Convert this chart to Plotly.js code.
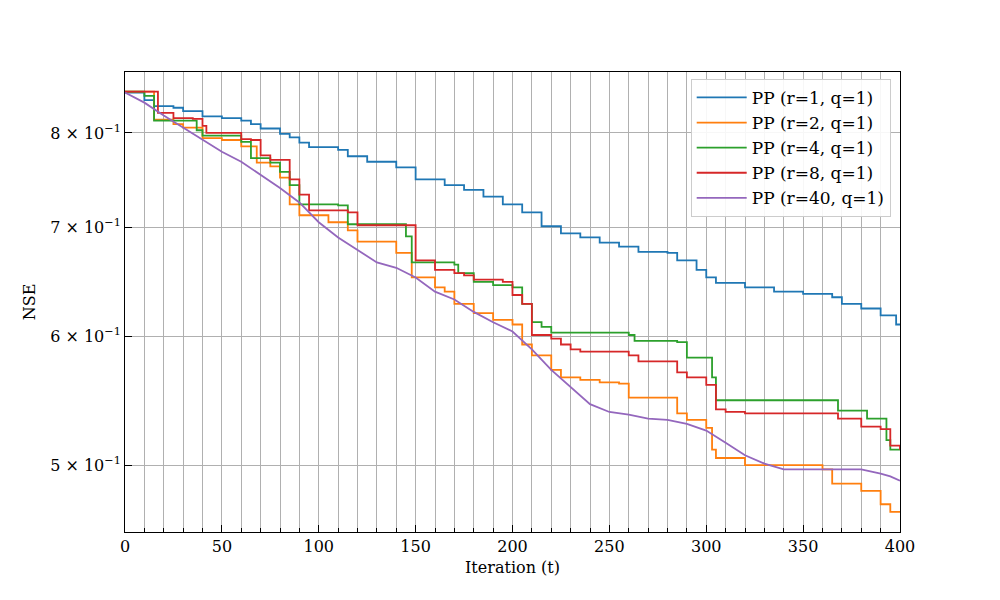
<!DOCTYPE html>
<html>
<head>
<script src="https://cdn.plot.ly/plotly-3.0.1.min.js"></script>
</head>
<body style="margin:0">
<div id="chart" style="width:1000px;height:600px"></div>
<script>
// values (NSE vs iteration)
var x_r1 = [0,10,15,25,30,40,50,60,65,70,80,85,90,95,110,115,125,140,150,165,175,185,195,205,215,225,235,245,255,265,280,285,295,300,305,320,335,350,365,370,380,390,398,400];
var y_r1 = [0.847,0.838,0.831,0.829,0.825,0.819,0.817,0.814,0.810,0.805,0.799,0.795,0.789,0.784,0.781,0.774,0.768,0.762,0.749,0.743,0.738,0.731,0.723,0.715,0.701,0.694,0.690,0.685,0.681,0.676,0.675,0.668,0.659,0.652,0.647,0.643,0.639,0.637,0.634,0.628,0.624,0.618,0.610,0.610];

var x_r2 = [0,12,15,25,30,40,50,60,68,75,80,85,90,100,105,115,120,140,148,160,165,170,180,190,200,205,210,220,225,235,245,255,260,280,285,290,300,303,305,315,320,345,360,365,375,380,390,395,400];
var y_r2 = [0.848,0.848,0.815,0.810,0.806,0.794,0.792,0.785,0.767,0.763,0.751,0.723,0.712,0.712,0.705,0.697,0.686,0.675,0.652,0.643,0.639,0.628,0.620,0.614,0.610,0.593,0.584,0.572,0.566,0.564,0.562,0.561,0.550,0.550,0.538,0.533,0.527,0.511,0.505,0.505,0.500,0.500,0.497,0.487,0.487,0.482,0.473,0.468,0.468];

var x_r4 = [0,10,15,37,40,55,60,65,75,80,85,90,110,115,140,145,148,170,172,180,190,200,205,210,215,220,260,263,285,290,300,303,305,365,368,380,383,390,393,395,400];
var y_r4 = [0.848,0.843,0.814,0.803,0.797,0.797,0.790,0.772,0.767,0.757,0.743,0.723,0.722,0.703,0.703,0.691,0.666,0.664,0.656,0.648,0.645,0.643,0.628,0.612,0.608,0.603,0.601,0.596,0.595,0.582,0.582,0.566,0.548,0.548,0.540,0.540,0.534,0.534,0.518,0.511,0.511];

var x_r8 = [0,15,17,25,35,40,42,55,60,65,70,75,85,90,95,115,120,145,150,160,170,175,180,195,200,205,210,220,225,230,235,255,260,265,280,285,290,300,305,310,320,365,368,375,380,390,395,400];
var y_r8 = [0.848,0.848,0.823,0.817,0.816,0.808,0.800,0.800,0.793,0.792,0.775,0.770,0.749,0.733,0.717,0.715,0.702,0.702,0.668,0.659,0.656,0.654,0.650,0.648,0.636,0.628,0.601,0.598,0.593,0.589,0.587,0.587,0.584,0.579,0.579,0.570,0.566,0.560,0.541,0.539,0.538,0.538,0.534,0.534,0.528,0.526,0.514,0.511];

var x_r40 = [0,10,20,30,40,50,60,70,80,90,100,110,120,130,140,150,160,170,180,190,200,210,220,230,240,250,260,270,280,290,300,310,320,330,340,360,370,380,390,395,400];
var y_r40 = [0.847,0.835,0.820,0.806,0.792,0.779,0.768,0.754,0.740,0.725,0.705,0.690,0.678,0.666,0.661,0.652,0.639,0.632,0.621,0.612,0.604,0.589,0.572,0.558,0.545,0.539,0.537,0.534,0.533,0.530,0.525,0.516,0.507,0.501,0.497,0.497,0.497,0.497,0.494,0.492,0.489];

var series = [
  {x: x_r1, y: y_r1, name: 'PP (r=1, q=1)', color: '#1f77b4', shape: 'hv'},
  {x: x_r2, y: y_r2, name: 'PP (r=2, q=1)', color: '#ff7f0e', shape: 'hv'},
  {x: x_r4, y: y_r4, name: 'PP (r=4, q=1)', color: '#2ca02c', shape: 'hv'},
  {x: x_r8, y: y_r8, name: 'PP (r=8, q=1)', color: '#d62728', shape: 'hv'},
  {x: x_r40, y: y_r40, name: 'PP (r=40, q=1)', color: '#9467bd', shape: 'linear'}
];

var data = series.map(function (s) {
  return {x: s.x, y: s.y, name: s.name, type: 'scatter', mode: 'lines',
          line: {color: s.color, width: 1.8, shape: s.shape}};
});

var font = {family: "'DejaVu Serif', 'Liberation Serif', serif", size: 16, color: 'black'};

var layout = {
  width: 1000, height: 600,
  margin: {l: 125, r: 100, t: 72, b: 68},
  font: font,
  paper_bgcolor: 'white', plot_bgcolor: 'white',
  showlegend: true,
  legend: {x: 0.988, y: 0.985, xanchor: 'right', yanchor: 'top',
           bgcolor: 'rgba(255,255,255,0.9)', bordercolor: '#cccccc', borderwidth: 1,
           itemwidth: 50, tracegroupgap: 0,
           font: {family: font.family, size: 17}},
  xaxis: {
    range: [0, 400], tickvals: [0,50,100,150,200,250,300,350,400],
    ticks: 'inside', ticklen: 7, tickcolor: 'black',
    showgrid: false, zeroline: false,
    showline: true, mirror: true, linecolor: 'black', linewidth: 1,
    minor: {dtick: 10, ticks: 'inside', ticklen: 4, tickcolor: 'black', showgrid: true, gridcolor: '#b0b0b0', gridwidth: 1},
    title: {text: 'Iteration (t)', font: font, standoff: 6}
  },
  yaxis: {
    type: 'log', range: [Math.log10(0.4548), Math.log10(0.872)],
    tickvals: [0.5, 0.6, 0.7, 0.8],
    ticktext: ['5 × 10<sup>−1</sup>', '6 × 10<sup>−1</sup>', '7 × 10<sup>−1</sup>', '8 × 10<sup>−1</sup>'],
    ticks: 'inside', ticklen: 7, tickcolor: 'black',
    showgrid: true, gridcolor: '#b0b0b0', zeroline: false,
    showline: true, mirror: true, linecolor: 'black', linewidth: 1,
    title: {text: 'NSE', font: font, standoff: 10}
  }
};

Plotly.newPlot('chart', data, layout, {displayModeBar: false});
</script>
</body>
</html>
